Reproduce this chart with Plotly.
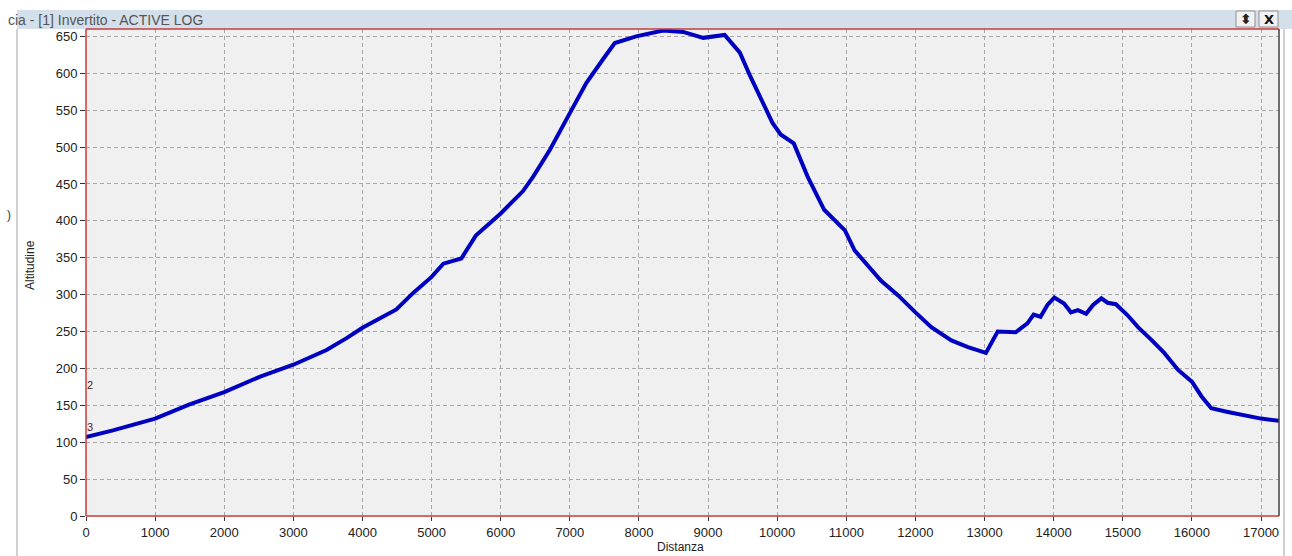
import plotly.graph_objects as go

# ---- data ----
distanza = [0, 390, 1000, 1490, 2000, 2520, 3000, 3480, 3770, 4000, 4490, 4730, 5000,
            5170, 5430, 5640, 6000, 6320, 6470, 6710, 7000, 7240, 7480, 7650, 7960,
            8350, 8640, 8930, 9240, 9460, 9610, 9760, 9930, 10050, 10240, 10440, 10680,
            10980, 11120, 11500, 11750, 12000, 12230, 12520, 12760, 13020, 13190, 13450,
            13620, 13710, 13810, 13910, 14010, 14150, 14250, 14350, 14470, 14570, 14690,
            14780, 14900, 15070, 15220, 15410, 15600, 15800, 16000, 16140, 16280, 16520,
            16860, 17000, 17260]
altitudine = [107, 116, 132, 151, 168, 189, 205, 225, 241, 255, 280, 302, 324,
              342, 349, 380, 410, 440, 460, 496, 546, 587, 619, 641, 650,
              658, 656, 648, 652, 628, 596, 565, 533, 517, 505, 460, 415,
              387, 360, 319, 299, 276, 256, 238, 229, 221, 250, 249,
              261, 273, 270, 286, 296, 288, 276, 279, 274, 286, 295,
              289, 287, 272, 256, 239, 221, 198, 182, 162, 146, 141,
              134, 132, 129]
x_ticks = list(range(0, 17001, 1000))
y_ticks = list(range(0, 651, 50))
marker_labels = ["2", "3"]
marker_alt = [177, 120]

W, H = 1292, 556
ML, MR, MT, MB = 86, 13, 29, 40
plot_h = H - MT - MB
font = "Liberation Sans Narrow, Arial Narrow, Liberation Sans, Arial, sans-serif"

fig = go.Figure()
fig.add_trace(go.Scatter(x=distanza, y=altitudine, mode="lines",
                         line=dict(color="#0000c0", width=4), showlegend=False,
                         hoverinfo="x+y"))

def py2paper(py):
    return (H - MB - py) / plot_h

def px2paper(px):
    return (px - ML) / (W - ML - MR)

shapes = [
    # title bar of the window
    dict(type="rect", xref="paper", yref="paper", x0=px2paper(17), x1=px2paper(1292),
         y0=py2paper(29), y1=py2paper(10), fillcolor="#d3dfeb", line=dict(width=0), layer="below"),
    # window buttons
    dict(type="rect", xref="paper", yref="paper", x0=px2paper(1236), x1=px2paper(1255),
         y0=py2paper(27), y1=py2paper(11), fillcolor="#f2f2f2", line=dict(color="#909090", width=1)),
    dict(type="rect", xref="paper", yref="paper", x0=px2paper(1259), x1=px2paper(1278),
         y0=py2paper(27), y1=py2paper(11), fillcolor="#f2f2f2", line=dict(color="#909090", width=1)),
    # left window edge
    dict(type="line", xref="paper", yref="paper", x0=px2paper(17), x1=px2paper(17),
         y0=py2paper(29), y1=py2paper(556), line=dict(color="#a0a0a0", width=1)),
    # right window edge
    dict(type="line", xref="paper", yref="paper", x0=px2paper(1284), x1=px2paper(1284),
         y0=py2paper(29), y1=py2paper(556), line=dict(color="#a0a0a0", width=1)),
    # plot borders
    dict(type="line", xref="paper", yref="paper", x0=0, x1=1, y0=1, y1=1,
         line=dict(color="#c83c3c", width=1.5)),
    dict(type="line", xref="paper", yref="paper", x0=0, x1=0, y0=0, y1=1,
         line=dict(color="#c83c3c", width=1.5)),
    dict(type="line", xref="paper", yref="paper", x0=0, x1=1, y0=0, y1=0,
         line=dict(color="#c83c3c", width=1.5)),
    dict(type="line", xref="paper", yref="paper", x0=1, x1=1, y0=0, y1=1,
         line=dict(color="#404040", width=1.5)),
]

annotations = [
    dict(text="cia - [1] Invertito - ACTIVE LOG", xref="paper", yref="paper",
         x=px2paper(6), y=py2paper(20), xanchor="left", yanchor="middle", showarrow=False,
         font=dict(family=font, size=14, color="#555555")),
    dict(text="<b>\u2b0d</b>", xref="paper", yref="paper", x=px2paper(1245.5), y=py2paper(19),
         xanchor="center", yanchor="middle",
         showarrow=False, font=dict(family="DejaVu Sans", size=14, color="#222222")),
    dict(text="<b>X</b>", xref="paper", yref="paper", x=px2paper(1268.5), y=py2paper(19),
         xanchor="center", yanchor="middle",
         showarrow=False, font=dict(family="DejaVu Sans", size=13, color="#111111")),
    dict(text=")", xref="paper", yref="paper", x=px2paper(9), y=py2paper(215),
         xanchor="center", yanchor="middle",
         showarrow=False, font=dict(family=font, size=12, color="#333333")),
    # axis titles
    dict(text="Distanza", xref="paper", yref="paper", x=px2paper(680), y=py2paper(547),
         xanchor="center", yanchor="middle",
         showarrow=False, font=dict(family=font, size=12, color="#222222")),
    dict(text="Altitudine", xref="paper", yref="paper", x=px2paper(30), y=py2paper(265),
         xanchor="center", yanchor="middle",
         showarrow=False, textangle=-90, font=dict(family=font, size=12, color="#222222")),
]
for lab, a in zip(marker_labels, marker_alt):
    annotations.append(dict(text=lab, x=0, y=a, xref="x", yref="y", xanchor="left",
                            yanchor="middle", xshift=-1, showarrow=False,
                            font=dict(family=font, size=11, color="#502020")))

grid = dict(showgrid=True, gridcolor="#a8a8a8", gridwidth=1, griddash="4px,3px")

fig.update_layout(
    width=W, height=H,
    margin=dict(l=ML, r=MR, t=MT, b=MB, pad=0, autoexpand=False),
    paper_bgcolor="white", plot_bgcolor="#f0f0f0",
    font=dict(family=font, size=12, color="#222222"),
    shapes=shapes, annotations=annotations,
    xaxis=dict(range=[0, 17260], tickmode="array", tickvals=x_ticks,
               ticktext=[str(v) for v in x_ticks], ticks="outside", ticklen=4,
               tickcolor="#333333", zeroline=False, showline=False,
               automargin=False,
               tickfont=dict(size=13), **grid),
    yaxis=dict(range=[0, 660], tickmode="array", tickvals=y_ticks,
               ticktext=[str(v) for v in y_ticks], ticks="outside", ticklen=5,
               tickcolor="#333333", zeroline=False, showline=False, automargin=False,
               tickfont=dict(size=13), **grid),
)

fig.write_html("out.html", config={"displayModeBar": False},
               post_script="document.body.style.margin='0';document.body.style.overflow='hidden';")
